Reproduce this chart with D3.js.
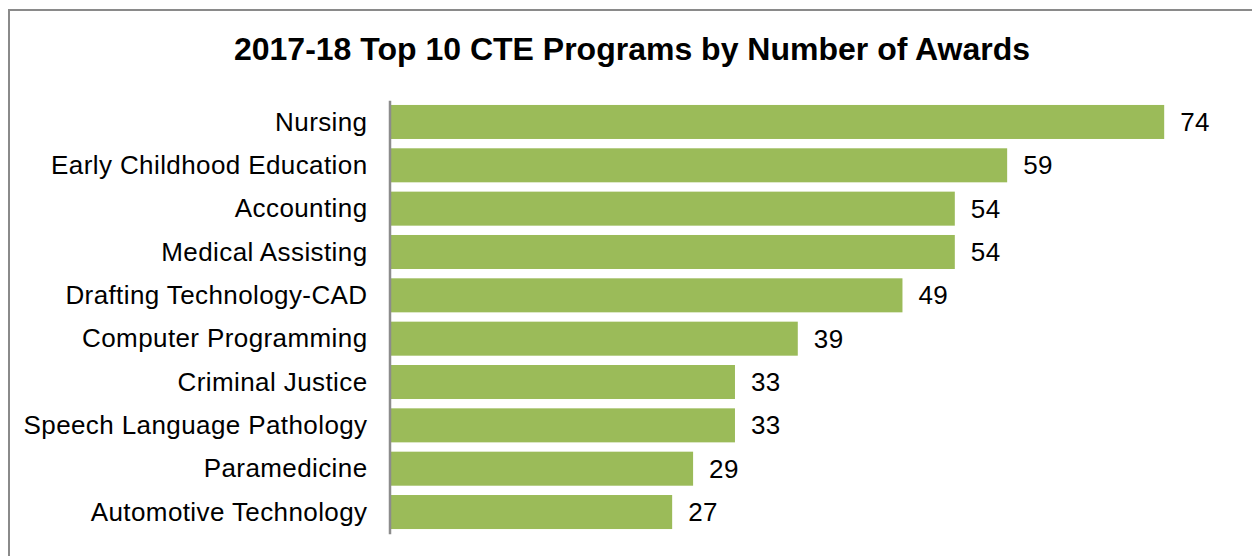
<!DOCTYPE html>
<html>
<head>
<meta charset="utf-8">
<script src="https://cdn.jsdelivr.net/npm/d3@7/dist/d3.min.js"></script>
<style>
  html, body { margin: 0; padding: 0; background: #fff; }
  svg { display: block; font-family: Arial, "Liberation Sans", sans-serif; }
</style>
</head>
<body>
<svg id="chart" width="1252" height="556"></svg>
<script>
const title = "2017-18 Top 10 CTE Programs by Number of Awards";
const categories = [
  "Nursing",
  "Early Childhood Education",
  "Accounting",
  "Medical Assisting",
  "Drafting Technology-CAD",
  "Computer Programming",
  "Criminal Justice",
  "Speech Language Pathology",
  "Paramedicine",
  "Automotive Technology"
];
const awards = [74, 59, 54, 54, 49, 39, 33, 33, 29, 27];

const svg = d3.select("#chart");

// outer border (chart area frame)
svg.append("rect")
  .attr("x", 9).attr("y", 10)
  .attr("width", 1260).attr("height", 600)
  .attr("fill", "#fff")
  .attr("stroke", "#8a8a8a")
  .attr("stroke-width", 2);

svg.append("text")
  .attr("x", 632).attr("y", 60)
  .attr("text-anchor", "middle")
  .attr("font-size", 32)
  .attr("font-weight", "bold")
  .attr("fill", "#000")
  .text(title);

const x = d3.scaleLinear().domain([0, 80]).range([389.5, 1227]);
const y = d3.scaleBand()
  .domain(categories)
  .range([100.3, 533.7])
  .paddingInner(0.215)
  .paddingOuter(0.1075);

const data = categories.map((c, i) => ({ c, v: awards[i] }));

svg.append("g").selectAll("rect")
  .data(data)
  .join("rect")
  .attr("x", x(0))
  .attr("y", d => y(d.c))
  .attr("width", d => x(d.v) - x(0))
  .attr("height", y.bandwidth())
  .attr("fill", "#9bbb59");

// category axis
const yAxis = d3.axisLeft(y).tickSize(0).tickPadding(22);
const gAxis = svg.append("g")
  .attr("transform", `translate(${x(0)},0)`)
  .call(yAxis);
gAxis.select(".domain")
  .attr("stroke", "#8c8c8c")
  .attr("stroke-width", 2.5);
gAxis.selectAll("text")
  .attr("font-size", 26)
  .attr("font-family", "Arial, 'Liberation Sans', sans-serif")
  .attr("letter-spacing", "0.4px")
  .attr("fill", "#000")
  .attr("dy", "0.33em");

// value labels
svg.append("g").selectAll("text")
  .data(data)
  .join("text")
  .attr("x", d => x(d.v) + 16)
  .attr("y", d => y(d.c) + y.bandwidth() / 2)
  .attr("dy", "0.35em")
  .attr("font-size", 26)
  .attr("letter-spacing", "0.4px")
  .attr("fill", "#000")
  .text(d => d.v);
</script>
</body>
</html>
